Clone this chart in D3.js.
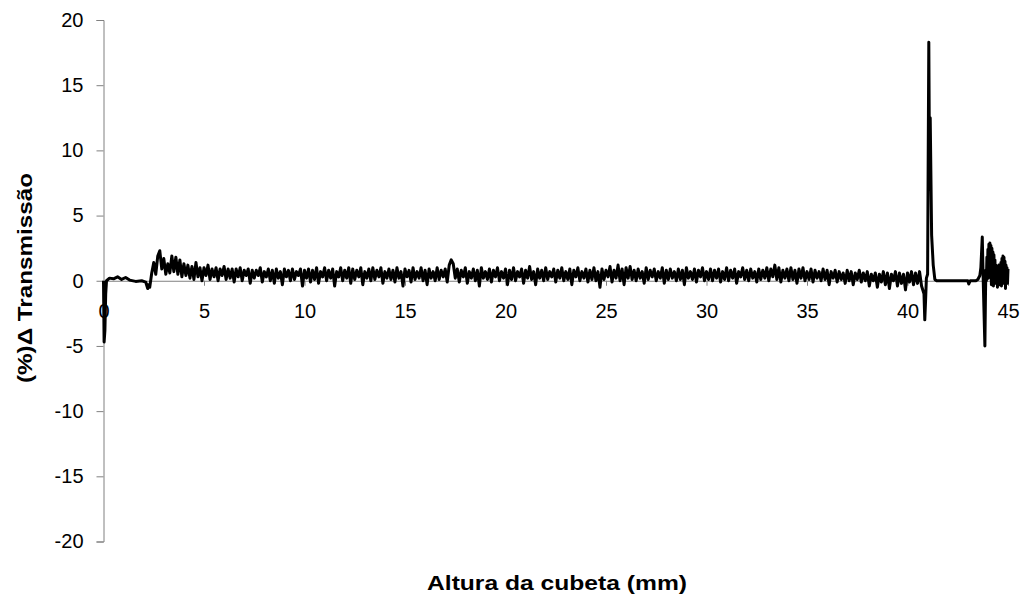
<!DOCTYPE html>
<html>
<head>
<meta charset="utf-8">
<script src="https://cdn.jsdelivr.net/npm/d3@7"></script>
<style>
  html, body { margin: 0; padding: 0; background: #fff; }
  svg { display: block; }
</style>
</head>
<body>
<svg id="chart" width="1027" height="599"></svg>
<script>
// ---- data ----
const xTicks = [0, 5, 10, 15, 20, 25, 30, 35, 40, 45];
const yTicks = [-20, -15, -10, -5, 0, 5, 10, 15, 20];

// leading segment (mm, %)
const startX = [0, 0.03, 0.07, 0.11, 0.15, 0.3, 0.5, 0.7, 0.9, 1.1, 1.3, 1.6, 1.9, 2.1, 2.2, 2.25];
const startY = [0, -4.7, -3.8, -1.0, 0, 0.2, 0.15, 0.3, 0.1, 0.25, 0.05, -0.05, 0, -0.1, -0.6, -0.3];

// regularly sampled noisy region, from 2.3 mm every 0.1 mm
const noiseStart = 2.3;
const noiseStep = 0.1;
const noiseY = [
  -0.5, 0.6, 1.4, 0.5, 1.9, 2.3, 0.9, 1.7, 0.5, 1.3, 0.6, 1.9, 0.7, 1.8, 0.5, 1.6, 0.3, 1.3, 0.4, 1.2,
  0.2, 1.1, 0.1, 1.4, 0.3, 1.0, 0.0, 1.0, 0.4, 1.2, 0.1, 0.9, 0.3, 1.0, 0.0, 0.9, 0.4, 1.1, 0.1, 0.9,
  0.2, 0.9, -0.1, 0.9, 0.3, 1.0, 0.0, 0.8, 0.4, 0.9, -0.2, 0.8, 0.2, 0.8, 0.4, 1.0, -0.1, 0.7, 0.3, 0.9,
  0.0, 0.8, -0.2, 0.9, 0.2, 0.7, -0.3, 0.9, 0.3, 0.8, 0.0, 0.9, 0.1, 0.7, 0.4, 0.9, -0.4, 0.8, 0.2, 0.9,
  -0.1, 0.8, 0.1, 1.0, -0.2, 0.7, 0.3, 1.0, 0.0, 0.8, 0.2, 0.9, -0.4, 0.7, 0.3, 1.0, 0.0, 0.8, 0.2, 1.0,
  -0.2, 0.9, 0.1, 0.8, 0.3, 1.0, -0.3, 0.7, 0.2, 0.9, 0.0, 1.0, 0.1, 0.8, 0.3, 1.0, -0.2, 0.7, 0.2, 0.9,
  0.1, 0.8, -0.1, 1.0, 0.2, 0.7, -0.4, 0.9, 0.3, 0.8, -0.1, 1.0, 0.1, 0.7, 0.2, 1.0, 0.0, 0.8, -0.3, 0.9,
  0.2, 0.7, 0.0, 1.0, 0.1, 0.8, 0.3, 0.9, -0.1, 1.2, 1.6, 1.3, 0.2, 0.9, -0.1, 0.8, 0.3, 1.0, -0.2, 0.7,
  0.2, 0.9, 0.0, 0.8, -0.4, 1.0, 0.2, 0.7, 0.1, 0.9, -0.1, 0.8, 0.3, 1.0, 0.0, 0.7, 0.2, 0.9, -0.3, 0.8,
  0.1, 1.0, 0.0, 0.7, 0.3, 0.9, -0.2, 0.8, 0.2, 1.1, 0.1, 0.7, -0.3, 0.9, 0.2, 0.8, 0.0, 1.0, 0.1, 0.7,
  0.3, 0.9, -0.1, 0.8, 0.2, 1.0, 0.0, 0.7, 0.1, 0.9, -0.3, 0.8, 0.3, 1.0, 0.0, 0.7, 0.2, 0.9, -0.1, 0.8,
  0.1, 1.0, 0.0, 0.7, -0.5, 0.9, 0.1, 0.8, 0.3, 1.1, -0.1, 0.8, 0.2, 1.2, 0.0, 0.9, -0.3, 1.0, 0.2, 1.1,
  0.1, 0.8, 0.0, 0.9, 0.2, 0.7, -0.2, 1.0, 0.1, 0.8, 0.3, 0.9, 0.0, 0.7, 0.2, 1.0, -0.2, 0.8, 0.1, 0.9,
  0.2, 0.7, 0.0, 0.9, 0.1, 0.8, -0.3, 1.0, 0.2, 0.7, 0.1, 0.9, -0.1, 0.8, 0.3, 1.0, 0.0, 0.7, 0.1, 0.9,
  0.0, 0.8, 0.2, 0.9, -0.1, 0.7, 0.1, 1.0, 0.0, 0.8, 0.2, 0.9, -0.2, 0.7, 0.3, 1.0, 0.1, 0.8, 0.0, 0.9,
  0.2, 0.7, -0.1, 0.9, 0.1, 0.8, 0.2, 1.0, 0.0, 0.9, 0.3, 1.2, 0.1, 1.0, -0.1, 0.8, 0.2, 0.9, 0.0, 1.0,
  0.1, 0.8, -0.2, 0.9, 0.2, 1.0, 0.0, 0.7, 0.1, 0.9, -0.1, 0.8, 0.2, 0.7, 0.0, 0.9, 0.1, 0.8, -0.3, 0.7,
  0.2, 0.8, -0.1, 0.7, 0.1, 0.6, -0.2, 0.8, 0.0, 0.7, -0.3, 0.6, 0.1, 0.8, -0.1, 0.6, 0.0, 0.7, -0.4, 0.5,
  0.0, 0.6, -0.5, 0.5, -0.1, 0.7, -0.3, 0.6, -0.6, 0.5, 0.0, 0.7, -0.4, 0.6, -0.2, 0.5, -0.7, 0.6, -0.1, 0.7,
  -0.3, 0.6, -0.2, 0.7, -0.4
];

// trailing segment: dip, main spike, flat baseline, second disturbance
const endX = [40.82, 40.86, 40.9, 40.94, 41.0, 41.06, 41.1, 41.13, 41.2, 41.28, 41.36, 41.45,
  42.0, 43.0, 43.05, 43.12, 43.4, 43.5, 43.6, 43.65, 43.72, 43.76, 43.8, 43.85, 43.88,
  43.9, 43.925, 43.95, 43.975, 44.0, 44.025, 44.05, 44.075, 44.1, 44.125, 44.15, 44.175, 44.2,
  44.225, 44.25, 44.275, 44.3, 44.325, 44.35, 44.375, 44.4, 44.425, 44.45, 44.475, 44.5, 44.525,
  44.55, 44.575, 44.6, 44.625, 44.65, 44.675, 44.7, 44.725, 44.75, 44.775, 44.8, 44.825, 44.85,
  44.875, 44.9, 44.925, 44.95, 44.975, 45.0];
const endY = [-1.0, -3.0, -1.5, 0.2, 0.5, 18.3, 7.0, 12.5, 3.5, 1.2, 0.1, 0,
  0, 0, -0.25, 0, 0, 0.1, 0.4, 1.0, 3.35, 0.5, -2.0, -5.0, -1.0,
  0.8, 0.0, 1.8, 0.3, 2.4, 0.2, 2.8, 0.5, 2.9, 0.3, 2.7, -0.3, 2.5,
  0.2, 2.2, -0.4, 2.0, 0.3, 1.6, -0.2, 1.2, 0.1, 0.9, -0.5, 1.0, 0.2,
  1.2, -0.3, 1.0, 0.3, 1.4, -0.4, 1.7, 0.2, 1.9, -0.2, 1.8, 0.1, 1.5,
  -0.6, 1.2, 0.2, 1.0, -0.2, 0.9];

// ---- build series ----
const points = [];
startX.forEach((xv, i) => points.push([xv, startY[i]]));
noiseY.forEach((yv, i) => points.push([noiseStart + i * noiseStep, yv]));
endX.forEach((xv, i) => points.push([xv, endY[i]]));

// ---- layout ----
const svg = d3.select("#chart");
const mLeft = 103.5, mRight = 1008, mTop = 20, mBottom = 541.5;

const x = d3.scaleLinear().domain([0, 45]).range([mLeft, mRight]);
const y = d3.scaleLinear().domain([-20, 20]).range([mBottom, mTop]);
const fmt = d => String(d);

// y axis
const yAxis = svg.append("g")
  .attr("transform", `translate(${mLeft},0)`)
  .call(d3.axisLeft(y).tickValues(yTicks).tickSize(7).tickPadding(13).tickFormat(fmt));
yAxis.select(".domain").attr("stroke", "#808080").attr("stroke-width", 1);
yAxis.selectAll(".tick line").attr("stroke", "#808080");
yAxis.selectAll("text")
  .attr("font-family", "Liberation Sans, Arial, sans-serif")
  .attr("font-size", 20)
  .attr("fill", "#000");

// x axis at y = 0
const xAxis = svg.append("g")
  .attr("transform", `translate(0,${y(0)})`)
  .call(d3.axisBottom(x).tickValues(xTicks).tickSize(5).tickSizeOuter(0).tickPadding(18).tickFormat(fmt));
xAxis.select(".domain").attr("stroke", "#808080").attr("stroke-width", 1);
xAxis.selectAll(".tick line").attr("stroke", "#808080");
xAxis.selectAll("text")
  .attr("font-family", "Liberation Sans, Arial, sans-serif")
  .attr("font-size", 20)
  .attr("fill", "#000");

// data trace
const line = d3.line().x(d => x(d[0])).y(d => y(d[1]));
svg.append("path")
  .datum(points)
  .attr("d", line)
  .attr("fill", "none")
  .attr("stroke", "#000")
  .attr("stroke-width", 3)
  .attr("stroke-linejoin", "round");

// axis titles
svg.append("text")
  .attr("x", 557)
  .attr("y", 590)
  .attr("text-anchor", "middle")
  .attr("font-family", "Liberation Sans, Arial, sans-serif")
  .attr("font-weight", "bold")
  .attr("font-size", 21)
  .attr("textLength", 260)
  .attr("lengthAdjust", "spacingAndGlyphs")
  .text("Altura da cubeta (mm)");

svg.append("text")
  .attr("transform", "translate(32,278) rotate(-90)")
  .attr("text-anchor", "middle")
  .attr("font-family", "Liberation Sans, Arial, sans-serif")
  .attr("font-weight", "bold")
  .attr("font-size", 21)
  .attr("textLength", 210)
  .attr("lengthAdjust", "spacingAndGlyphs")
  .text("(%)Δ Transmissão");
</script>
</body>
</html>
